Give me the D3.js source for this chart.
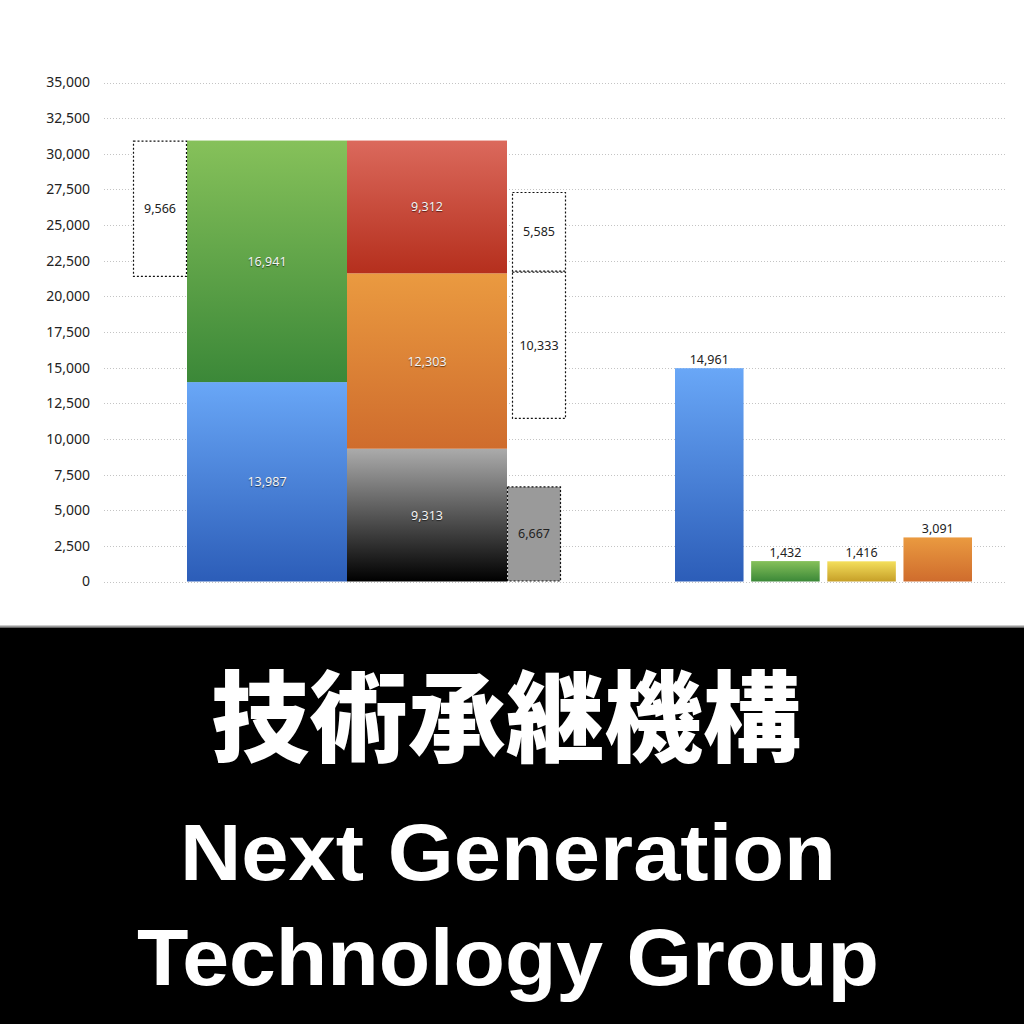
<!DOCTYPE html>
<html>
<head>
<meta charset="utf-8">
<script src="https://cdn.jsdelivr.net/npm/d3@7"></script>
<style>
  body { margin: 0; background: #fff; }
  svg { display: block; }
</style>
</head>
<body>
<div id="container"></div>
<script>
"use strict";

// y axis ticks
const yTickValues = [0, 2500, 5000, 7500, 10000, 12500, 15000, 17500, 20000, 22500, 25000, 27500, 30000, 32500, 35000];

// stacked columns (segments bottom to top)
const stackColumns = ["col1", "col2"];
const col1Keys = ["blue", "green"];
const col1Values = [13987, 16941];
const col2Keys = ["gray", "orange", "red"];
const col2Values = [9313, 12303, 9312];

// dotted boxes beside the stacks
const sideColumns = ["col1", "col2", "col2", "col2"];
const sideKinds = ["open", "filled", "open", "open"];
const sideBases = [21362, 0, 11400, 21733];
const sideValues = [9566, 6667, 10333, 5585];

// single bars on the right
const rightCategories = ["r1", "r2", "r3", "r4"];
const rightKeys = ["blue", "green", "yellow", "orange"];
const rightValues = [14961, 1432, 1416, 3091];

// title lines
const titleJa = "技術承継機構";
const titleEn1 = "Next Generation";
const titleEn2 = "Technology Group";

// gradient colours (top, bottom)
const palette = {
    blue: ["#69a7f7", "#2c5db8"],
    green: ["#86c15a", "#3b8838"],
    red: ["#db695c", "#b52f1d"],
    orange: ["#ea9a40", "#cf6c2d"],
    gray: ["#ababab", "#000000"],
    yellow: ["#f4df5c", "#c69f28"],
};

const fmt = d3.format(",");
const W = 1024, H = 1024;

const svg = d3.select("#container")
    .append("svg")
    .attr("width", W)
    .attr("height", H);

// gradients
const defs = svg.append("defs");
Object.entries(palette).forEach(([k, c]) => {
    const g = defs.append("linearGradient")
        .attr("id", "grad-" + k)
        .attr("x1", 0).attr("y1", 0).attr("x2", 0).attr("y2", 1);
    g.append("stop").attr("offset", "0%").attr("stop-color", c[0]);
    g.append("stop").attr("offset", "100%").attr("stop-color", c[1]);
});

// scales
const y = d3.scaleLinear().domain([0, 35000]).range([581.5, 82.5]);
const xStack = d3.scaleBand().domain(stackColumns).range([187, 507]).padding(0);
const xRight = d3.scaleBand().domain(rightCategories).range([675, 972]).paddingInner(0.1).paddingOuter(0);
const sideW = xStack.bandwidth() * 0.3375;

// gridlines
svg.append("g")
    .selectAll("line")
    .data(yTickValues)
    .join("line")
    .attr("x1", 104)
    .attr("x2", 1006)
    .attr("y1", (d) => Math.round(y(d)) + 0.5)
    .attr("y2", (d) => Math.round(y(d)) + 0.5)
    .attr("stroke", "#c4c4c4")
    .attr("stroke-width", 1)
    .attr("stroke-dasharray", "1,2");

// y axis labels
const yAxis = svg.append("g")
    .attr("transform", "translate(90,0)")
    .call(d3.axisLeft(y).tickValues(yTickValues).tickFormat(fmt).tickSize(0).tickPadding(0));
yAxis.select(".domain").remove();
yAxis.selectAll("text")
    .attr("fill", "#222")
    .style("font-family", "'Noto Sans', 'Liberation Sans', sans-serif")
    .style("font-size", "14px");

// stacked segments
const stackData = [];
[[col1Keys, col1Values], [col2Keys, col2Values]].forEach(([keys, vals], ci) => {
    let base = 0;
    keys.forEach((k, i) => {
        stackData.push({ col: stackColumns[ci], key: k, y0: base, y1: base + vals[i], value: vals[i] });
        base += vals[i];
    });
});

svg.append("g")
    .selectAll("rect")
    .data(stackData)
    .join("rect")
    .attr("x", (d) => xStack(d.col))
    .attr("y", (d) => y(d.y1))
    .attr("width", xStack.bandwidth())
    .attr("height", (d) => y(d.y0) - y(d.y1))
    .attr("fill", (d) => "url(#grad-" + d.key + ")");

svg.append("g")
    .selectAll("text")
    .data(stackData)
    .join("text")
    .attr("x", (d) => xStack(d.col) + xStack.bandwidth() / 2)
    .attr("y", (d) => (y(d.y0) + y(d.y1)) / 2)
    .attr("text-anchor", "middle")
    .attr("dominant-baseline", "central")
    .attr("fill", "#f4f4f4")
    .style("font-family", "'Noto Sans', 'Liberation Sans', sans-serif")
    .style("font-size", "12.5px")
    .style("text-shadow", "0 1px 1px rgba(0,0,0,0.55)")
    .text((d) => fmt(d.value));

// dotted side boxes
const sideData = sideValues.map((v, i) => ({
    col: sideColumns[i],
    kind: sideKinds[i],
    y0: sideBases[i],
    y1: sideBases[i] + v,
    value: v,
    left: i === 0,
}));
const sideX = (d) => {
    if (d.left) return xStack(d.col) - sideW;
    return xStack(d.col) + xStack.bandwidth() + (d.kind === "open" ? 5 : 0);
};

svg.append("g")
    .selectAll("rect")
    .data(sideData)
    .join("rect")
    .attr("x", (d) => sideX(d) + 0.5)
    .attr("y", (d) => y(d.y1) + 0.5)
    .attr("width", sideW - 1)
    .attr("height", (d) => y(d.y0) - y(d.y1) - 1)
    .attr("fill", (d) => (d.kind === "filled" ? "#9a9a9a" : "#fff"))
    .attr("stroke", "#111")
    .attr("stroke-width", 1.2)
    .attr("stroke-dasharray", "2,2");

svg.append("g")
    .selectAll("text")
    .data(sideData)
    .join("text")
    .attr("x", (d) => sideX(d) + sideW / 2)
    .attr("y", (d) => (y(d.y0) + y(d.y1)) / 2)
    .attr("text-anchor", "middle")
    .attr("dominant-baseline", "central")
    .attr("fill", "#222")
    .style("font-family", "'Noto Sans', 'Liberation Sans', sans-serif")
    .style("font-size", "12.5px")
    .text((d) => fmt(d.value));

// right bars
svg.append("g")
    .selectAll("rect")
    .data(rightValues)
    .join("rect")
    .attr("x", (d, i) => xRight(rightCategories[i]))
    .attr("y", (d) => y(d))
    .attr("width", xRight.bandwidth())
    .attr("height", (d) => y(0) - y(d))
    .attr("fill", (d, i) => "url(#grad-" + rightKeys[i] + ")");

svg.append("g")
    .selectAll("text")
    .data(rightValues)
    .join("text")
    .attr("x", (d, i) => xRight(rightCategories[i]) + xRight.bandwidth() / 2)
    .attr("y", (d) => y(d) - 4)
    .attr("text-anchor", "middle")
    .attr("fill", "#222")
    .style("font-family", "'Noto Sans', 'Liberation Sans', sans-serif")
    .style("font-size", "12.5px")
    .text((d) => fmt(d));

// black title panel
svg.append("rect")
    .attr("x", 0).attr("y", 625.5)
    .attr("width", W).attr("height", 2)
    .attr("fill", "#9a9a9a");
svg.append("rect")
    .attr("x", 0).attr("y", 627.5)
    .attr("width", W).attr("height", H - 627.5)
    .attr("fill", "#000");

svg.append("text")
    .attr("x", 506)
    .attr("y", 711)
    .attr("text-anchor", "middle")
    .attr("dominant-baseline", "central")
    .attr("fill", "#fff")
    .attr("textLength", 590)
    .attr("lengthAdjust", "spacingAndGlyphs")
    .style("font-family", "'Noto Sans CJK JP', sans-serif")
    .style("font-weight", 900)
    .style("font-size", "99px")
    .text(titleJa);

svg.append("text")
    .attr("x", 508)
    .attr("y", 880)
    .attr("text-anchor", "middle")
    .attr("fill", "#fff")
    .attr("textLength", 656)
    .attr("lengthAdjust", "spacingAndGlyphs")
    .style("font-family", "'Liberation Sans', Arial, sans-serif")
    .style("font-weight", 700)
    .style("font-size", "80px")
    .text(titleEn1);

svg.append("text")
    .attr("x", 508)
    .attr("y", 985)
    .attr("text-anchor", "middle")
    .attr("fill", "#fff")
    .attr("textLength", 742)
    .attr("lengthAdjust", "spacingAndGlyphs")
    .style("font-family", "'Liberation Sans', Arial, sans-serif")
    .style("font-weight", 700)
    .style("font-size", "80px")
    .text(titleEn2);
</script>
</body>
</html>
